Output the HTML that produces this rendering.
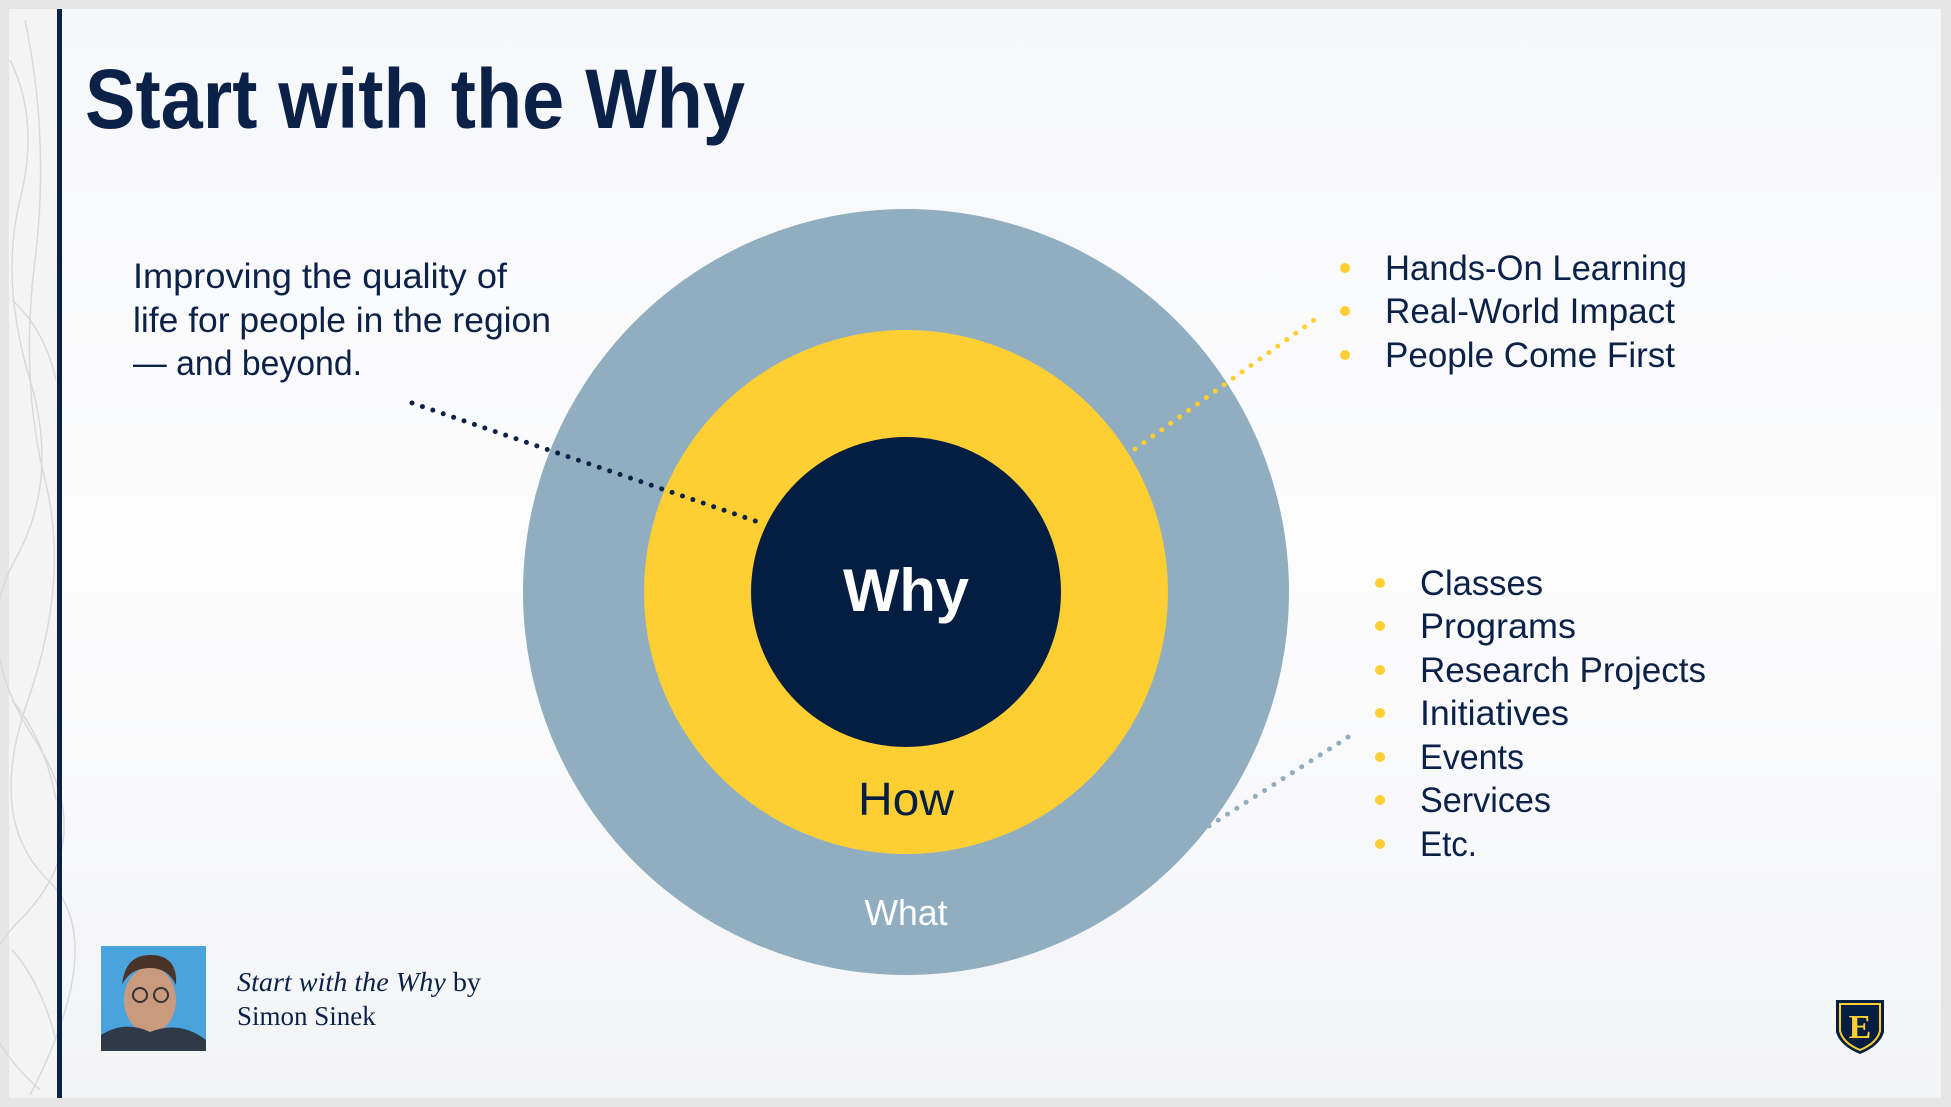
<!DOCTYPE html>
<html><head><meta charset="utf-8"><style>
html,body{margin:0;padding:0;width:1951px;height:1107px;overflow:hidden;background:#e6e6e6}
</style></head><body>
<svg width="1951" height="1107" viewBox="0 0 1951 1107" xmlns="http://www.w3.org/2000/svg">
<defs>
<linearGradient id="bg" x1="0" y1="0" x2="0" y2="1"><stop offset="0" stop-color="#f6f7f9"/><stop offset="0.5" stop-color="#fcfcfd"/><stop offset="1" stop-color="#f3f4f6"/></linearGradient>
</defs>
<rect x="9" y="9" width="1932" height="1089" fill="url(#bg)"/>
<rect x="9" y="9" width="48" height="1089" fill="#f4f4f4"/>
<g fill="none" stroke="#d9d9d9" stroke-width="1.5">
<path d="M10 60 Q40 120 20 200 T30 380 T15 560 T35 740 T20 920 T40 1090"/>
<path d="M25 20 Q50 140 35 260 T45 480 T28 700 T48 880 T30 1095"/>
<path d="M12 300 Q45 330 56 380"/><path d="M12 700 Q45 740 56 800"/><path d="M12 950 Q40 980 56 1040"/>
</g>
<rect x="57" y="9" width="5" height="1089" fill="#0b2148"/>
<text x="85" y="128" font-family="Liberation Sans, sans-serif" font-weight="bold" font-size="84" fill="#0b2148" textLength="660" lengthAdjust="spacingAndGlyphs">Start with the Why</text>
<circle cx="906" cy="592" r="383" fill="#90aebf"/>
<circle cx="906" cy="592" r="262" fill="#fecf33"/>
<circle cx="906" cy="592" r="155" fill="#041e42"/>
<text x="906" y="611" text-anchor="middle" font-family="Liberation Sans, sans-serif" font-weight="bold" font-size="60" fill="#fff" textLength="126" lengthAdjust="spacingAndGlyphs">Why</text>
<text x="906" y="815" text-anchor="middle" font-family="Liberation Sans, sans-serif" font-size="46" fill="#041e42" textLength="96" lengthAdjust="spacingAndGlyphs">How</text>
<text x="906" y="925" text-anchor="middle" font-family="Liberation Sans, sans-serif" font-size="36" fill="#fff" textLength="83" lengthAdjust="spacingAndGlyphs">What</text>
<g font-family="Liberation Sans, sans-serif" font-size="35" fill="#0b2148">
<text x="133" y="288" textLength="374" lengthAdjust="spacingAndGlyphs">Improving the quality of</text>
<text x="133" y="332" textLength="418" lengthAdjust="spacingAndGlyphs">life for people in the region</text>
<text x="133" y="375" textLength="229" lengthAdjust="spacingAndGlyphs">— and beyond.</text>
</g>
<line x1="412" y1="403" x2="764" y2="524" stroke="#0b2148" stroke-width="5" stroke-linecap="round" stroke-dasharray="0 11"/>
<line x1="1135" y1="449" x2="1321" y2="315" stroke="#fecf33" stroke-width="5" stroke-linecap="round" stroke-dasharray="0 11"/>
<line x1="1209" y1="826" x2="1353" y2="734" stroke="#90aebf" stroke-width="5" stroke-linecap="round" stroke-dasharray="0 11"/>
<g fill="#fecf33">
<circle cx="1345" cy="268" r="5"/><circle cx="1345" cy="311" r="5"/><circle cx="1345" cy="355" r="5"/>
<circle cx="1380" cy="583" r="5"/><circle cx="1380" cy="626" r="5"/><circle cx="1380" cy="670" r="5"/><circle cx="1380" cy="713" r="5"/><circle cx="1380" cy="757" r="5"/><circle cx="1380" cy="800" r="5"/><circle cx="1380" cy="844" r="5"/>
</g>
<g font-family="Liberation Sans, sans-serif" font-size="35" fill="#0b2148">
<text x="1385" y="280" textLength="302" lengthAdjust="spacingAndGlyphs">Hands-On Learning</text>
<text x="1385" y="323" textLength="290" lengthAdjust="spacingAndGlyphs">Real-World Impact</text>
<text x="1385" y="367" textLength="290" lengthAdjust="spacingAndGlyphs">People Come First</text>
<text x="1420" y="595" textLength="123" lengthAdjust="spacingAndGlyphs">Classes</text>
<text x="1420" y="638" textLength="156" lengthAdjust="spacingAndGlyphs">Programs</text>
<text x="1420" y="682" textLength="286" lengthAdjust="spacingAndGlyphs">Research Projects</text>
<text x="1420" y="725" textLength="149" lengthAdjust="spacingAndGlyphs">Initiatives</text>
<text x="1420" y="769" textLength="104" lengthAdjust="spacingAndGlyphs">Events</text>
<text x="1420" y="812" textLength="131" lengthAdjust="spacingAndGlyphs">Services</text>
<text x="1420" y="856" textLength="57" lengthAdjust="spacingAndGlyphs">Etc.</text>
</g>
<rect x="101" y="946" width="105" height="105" fill="#4aa3dc"/>
<ellipse cx="150" cy="1000" rx="26" ry="33" fill="#c99a7e"/>
<path d="M122 985 Q125 955 150 955 Q178 955 176 985 Q168 968 150 968 Q130 968 122 985Z" fill="#4a3226"/>
<path d="M101 1051 L101 1035 Q125 1020 150 1032 Q180 1020 206 1040 L206 1051Z" fill="#2e3a48"/>
<g fill="none" stroke="#333" stroke-width="2"><circle cx="140" cy="995" r="7"/><circle cx="161" cy="995" r="7"/></g>
<g font-family="Liberation Serif, serif" font-size="27" fill="#0b2148">
<text x="237" y="991" textLength="244" lengthAdjust="spacingAndGlyphs"><tspan font-style="italic">Start with the Why</tspan> by</text>
<text x="237" y="1025">Simon Sinek</text>
</g>
<path d="M1836 1000 L1884 1000 L1884 1032 Q1880 1046 1860 1054 Q1840 1046 1836 1032Z" fill="#041e42"/>
<path d="M1840 1004 L1880 1004 L1880 1031 Q1877 1043 1860 1050 Q1843 1043 1840 1031Z" fill="none" stroke="#fecf33" stroke-width="2"/>
<text x="1860" y="1038" text-anchor="middle" font-family="Liberation Serif, serif" font-weight="bold" font-size="34" fill="#fecf33">E</text>
</svg>
</body></html>
